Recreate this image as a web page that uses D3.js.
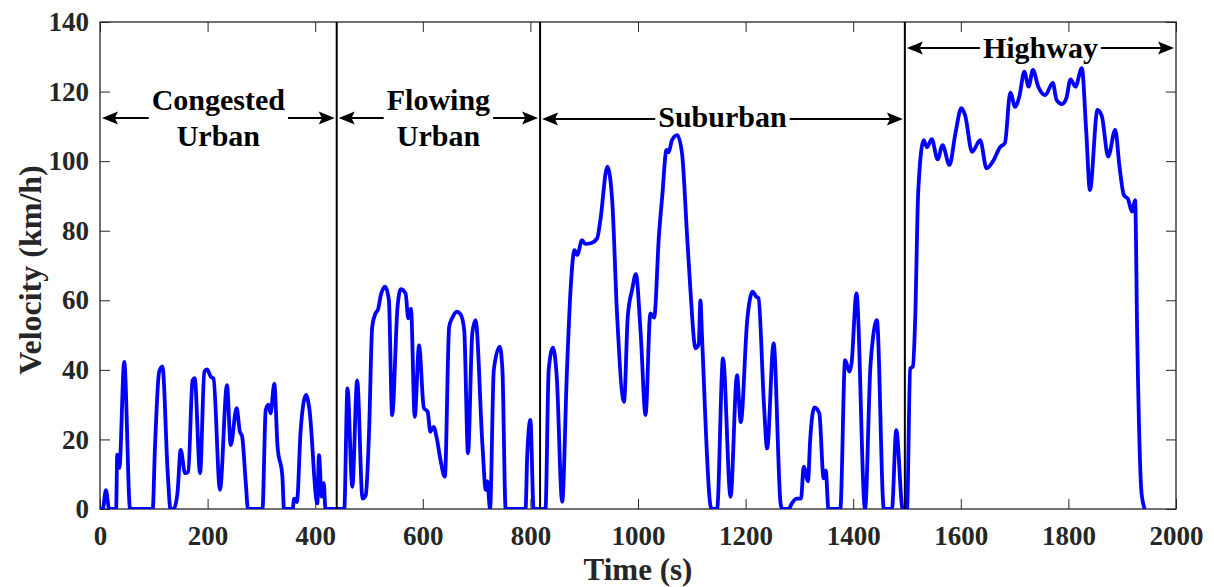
<!DOCTYPE html>
<html lang="en">
<head>
  <meta charset="UTF-8">
  <title>Velocity profile</title>
  <style>
    body { margin: 0; background: #fff; }
    svg text { font-family: 'Liberation Serif', 'Times New Roman', serif; font-weight: bold; }
    .tick text { font-size: 27px; fill: #262626; }
    .tick line { stroke: #262626; }
    .axis-label { font-size: 31px; fill: #262626; }
    .region text { font-size: 30px; fill: #000; }
  </style>
</head>
<body>
  <svg width="1214" height="587"></svg>
  <script src="https://cdn.jsdelivr.net/npm/d3@7"></script>
  <script>
    // time (s) and velocity (km/h)
    var time = [
      0, 5, 11, 17, 30, 32, 36, 45, 56, 98, 102, 110, 116, 126, 131, 137, 144, 150, 158, 164,
      172, 176, 186, 194, 199, 206, 211, 223, 236, 243, 254, 260, 264, 271, 275, 302, 308, 313, 317, 324,
      330, 339, 342, 358, 361, 366, 373, 383, 389, 404, 407, 412, 416, 419, 454,
      460, 469, 478, 488, 494, 500, 506, 512, 517, 522, 530, 537, 543, 553, 559, 568, 573, 578, 585, 593,
      602, 609, 614, 620, 626, 633, 641, 649, 655, 663, 670, 677, 684, 692, 698, 711, 717, 720, 725, 732,
      743, 748, 754, 791, 794, 800, 806, 828,
      834, 842, 849, 859, 868, 875, 882, 887, 896, 902, 912, 924, 930, 943, 952, 961, 974, 981, 989, 996,
      1005, 1014, 1023, 1030, 1039, 1045, 1053, 1057, 1063, 1073, 1082, 1091, 1097, 1107, 1113, 1116, 1119, 1135, 1138, 1147,
      1158, 1172, 1184, 1191, 1203, 1213, 1220, 1224, 1234, 1240, 1252, 1265, 1268, 1280, 1286, 1295, 1303, 1308, 1316, 1320,
      1328, 1337, 1345, 1349, 1354, 1376, 1385, 1393, 1397, 1406, 1422, 1432, 1437, 1444, 1457, 1472, 1480, 1492, 1500,
      1506, 1511, 1515, 1521, 1531, 1537, 1546, 1557, 1566, 1579, 1590, 1601, 1608, 1621, 1636, 1648, 1660, 1673, 1682, 1692,
      1701, 1709, 1718, 1726, 1734, 1744, 1757, 1771, 1778, 1788, 1796, 1804, 1813, 1825, 1833, 1840, 1854, 1862, 1874, 1887,
      1895, 1903, 1911, 1918, 1924, 1928, 1936, 1942
    ]
    var velocity = [
      0, 0, 5.4, 0, 0, 15.6, 11.8, 42.3, 0, 0, 17, 39.5, 41, 10, 0, 0, 4.6, 17, 10.3, 10.7,
      37, 37.6, 10.3, 39.5, 40.1, 38, 37.5, 5.5, 35.6, 18.4, 29, 22.2, 21, 7.5, 0, 0, 28.5, 30, 27.5, 36,
      18, 9.3, 0, 0, 3, 2, 22.7, 32.8, 29, 1.6, 15.5, 3.6, 7.4, 0, 0,
      34.7, 6.4, 37, 3, 4, 21.7, 52.4, 56.2, 57.5, 61.5, 63.9, 60, 27, 58, 63.2, 62, 54.8, 57.6, 26.5, 47,
      29, 28, 22.2, 23.6, 20.3, 14, 9.3, 52.4, 55, 56.7, 56, 51.4, 16, 50.5, 54.3, 18, 5.5, 8, 0, 40,
      46.7, 40, 0, 0, 15, 25.6, 0, 0,
      40, 46.4, 38, 2.1, 40, 63.9, 74.4, 73, 77.3, 76.2, 76.4, 77.8, 83, 98.4, 88.8, 56.2, 30.8, 55.3, 63, 67.5,
      50.5, 27, 56.2, 55, 78.8, 89.8, 103.2, 102.5, 106, 107.5, 102, 79.2, 64, 46.2, 47.4, 60, 49.5, 0.7, 0, 0,
      43.3, 3.5, 38.5, 25, 54.3, 62.5, 61, 60.6, 30.4, 17.4, 47.6, 1.6, 0, 0, 1.6, 3, 3, 12.2, 8, 19.8,
      29.2, 27.5, 8.8, 11, 0, 0, 42.8, 39.5, 42, 62, 0, 41, 49.5, 54.3, 0, 0, 22.7, 0, 0,
      40.4, 41, 53.4, 91.7, 106, 104, 106.3, 100.5, 104.6, 98.9, 108, 115.2, 113.2, 102.7, 106, 97.9, 100, 104, 105.2, 119.7,
      115.6, 118.7, 125.7, 121.4, 126.2, 121.4, 119, 122.5, 117.6, 116.4, 118, 123.5, 121.4, 126.7, 108.9, 91.7, 114.7, 113, 101.3, 109,
      98.4, 90.3, 89, 85.5, 88.8, 48.6, 4.5, 0
    ]

    var xTicks = [0, 200, 400, 600, 800, 1000, 1200, 1400, 1600, 1800, 2000]
    var yTicks = [0, 20, 40, 60, 80, 100, 120, 140]

    // driving-cycle segments (boundaries in s) and their names
    var bounds = [0, 440, 818, 1496, 2000]
    var regionNames = [['Congested', 'Urban'], ['Flowing', 'Urban'], ['Suburban'], ['Highway']]

    var svg = d3.select('svg')
    var plotL = 100, plotR = 1176, plotT = 22, plotB = 509

    var x = d3.scaleLinear().domain([0, 2000]).range([plotL, plotR])
    var y = d3.scaleLinear().domain([0, 140]).range([plotB, plotT])

    svg.append('clipPath').attr('id', 'plot')
      .append('rect')
      .attr('x', plotL).attr('y', plotT)
      .attr('width', plotR - plotL).attr('height', plotB - plotT)

    // axes with inward ticks (box style)
    var fmt = d3.format('d')
    svg.append('g')
      .attr('transform', 'translate(0,' + plotB + ')')
      .call(d3.axisBottom(x).tickValues(xTicks).tickSize(-10).tickPadding(17).tickFormat(fmt))
    svg.append('g')
      .attr('transform', 'translate(0,' + plotT + ')')
      .call(d3.axisTop(x).tickValues(xTicks).tickSize(-10).tickFormat(''))
    svg.append('g')
      .attr('transform', 'translate(' + plotL + ',0)')
      .call(d3.axisLeft(y).tickValues(yTicks).tickSize(-10).tickPadding(11).tickFormat(fmt))
    svg.append('g')
      .attr('transform', 'translate(' + plotR + ',0)')
      .call(d3.axisRight(y).tickValues(yTicks).tickSize(-10).tickFormat(''))
    svg.selectAll('.domain').remove()

    svg.append('rect')
      .attr('x', plotL).attr('y', plotT)
      .attr('width', plotR - plotL).attr('height', plotB - plotT)
      .attr('fill', 'none')
      .attr('stroke', '#262626')
      .attr('stroke-width', 1.3)

    // velocity trace
    var line = d3.line()
      .x(function(d) { return x(d[0]) })
      .y(function(d) { return y(d[1]) })
      .curve(d3.curveMonotoneX)

    svg.append('path')
      .datum(d3.zip(time, velocity))
      .attr('clip-path', 'url(#plot)')
      .attr('d', line)
      .attr('fill', 'none')
      .attr('stroke', '#0000ff')
      .attr('stroke-width', 3.8)
      .attr('stroke-linejoin', 'round')

    // segment dividers
    svg.selectAll('.divider')
      .data(bounds.slice(1, -1))
      .enter()
      .append('line')
      .attr('class', 'divider')
      .attr('x1', function(d) { return x(d) })
      .attr('x2', function(d) { return x(d) })
      .attr('y1', plotT)
      .attr('y2', plotB)
      .attr('stroke', '#000')
      .attr('stroke-width', 2)

    // double-headed arrows with labels
    function arrowHead(tipX, ay, dir) {
      var len = 16, hw = 6.5
      return 'M' + tipX + ',' + ay +
        'L' + (tipX + dir * len) + ',' + (ay - hw) +
        'L' + (tipX + dir * len * 0.8) + ',' + ay +
        'L' + (tipX + dir * len) + ',' + (ay + hw) + 'Z'
    }

    regionNames.forEach(function(lines, i) {
      var x0 = x(bounds[i]) + 2
      var x1 = x(bounds[i + 1]) - 2
      var cx = (x(bounds[i]) + x(bounds[i + 1])) / 2
      var ay, baselines
      if (lines.length === 2) {
        ay = 118
        baselines = [110, 146]
      } else if (i === 3) {
        ay = 48
        baselines = [58]
      } else {
        ay = 119
        baselines = [127]
      }
      var g = svg.append('g').attr('class', 'region')
      var w = 0
      lines.forEach(function(t, j) {
        var txt = g.append('text')
          .attr('x', cx)
          .attr('y', baselines[j])
          .attr('text-anchor', 'middle')
          .text(t)
        w = Math.max(w, txt.node().getComputedTextLength())
      })
      var gap = 3
      g.append('line')
        .attr('x1', x0 + 4).attr('x2', cx - w / 2 - gap)
        .attr('y1', ay).attr('y2', ay)
        .attr('stroke', '#000').attr('stroke-width', 2)
      g.append('line')
        .attr('x1', cx + w / 2 + gap).attr('x2', x1 - 4)
        .attr('y1', ay).attr('y2', ay)
        .attr('stroke', '#000').attr('stroke-width', 2)
      g.append('path').attr('d', arrowHead(x0, ay, 1)).attr('fill', '#000')
      g.append('path').attr('d', arrowHead(x1, ay, -1)).attr('fill', '#000')
    })

    // axis titles
    svg.append('text')
      .attr('class', 'axis-label')
      .attr('x', (plotL + plotR) / 2)
      .attr('y', 580)
      .attr('text-anchor', 'middle')
      .text('Time (s)')

    svg.append('text')
      .attr('class', 'axis-label')
      .attr('transform', 'translate(41,' + 270 + ') rotate(-90)')
      .attr('text-anchor', 'middle')
      .style('font-size', '32px')
      .text('Velocity (km/h)')
  </script>
</body>
</html>
